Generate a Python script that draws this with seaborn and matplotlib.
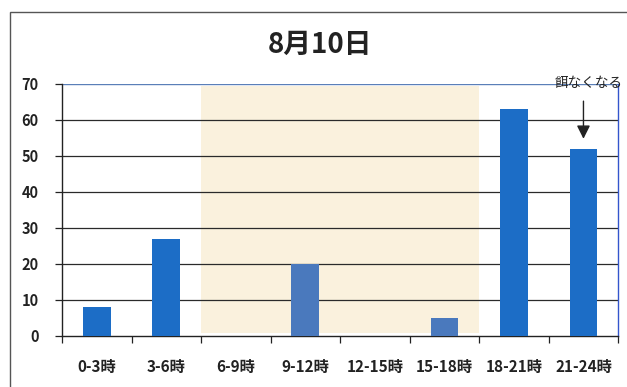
import matplotlib
matplotlib.use("Agg")
import matplotlib.pyplot as plt
from matplotlib.patches import Rectangle
import seaborn as sns
import pandas as pd

# Hourly counts for the day
periods = ["0-3時", "3-6時", "6-9時", "9-12時", "12-15時", "15-18時", "18-21時", "21-24時"]
counts = [8, 27, 0, 20, 0, 5, 63, 52]
daytime = [False, False, True, True, True, True, False, False]
title = "8月10日"
note = "餌なくなる"
note_period = "21-24時"
y_ticks = [0, 10, 20, 30, 40, 50, 60, 70]

night_blue = "#1c6dc6"
day_blue = "#4a79bd"
shade = "#faf1dd"

sns.set_style("white")
plt.rcParams["font.family"] = ["Noto Sans CJK JP", "DejaVu Sans"]

df = pd.DataFrame({"period": periods, "count": counts})
colors = [day_blue if d else night_blue for d in daytime]

fig = plt.figure(figsize=(6.27, 3.87), dpi=100)
fig.patch.set_facecolor("white")
ax = fig.add_axes([0.099, 0.132, 0.887, 0.651])

sns.barplot(data=df, x="period", y="count", hue="period", palette=colors,
            legend=False, width=0.4, saturation=1, linewidth=0,
            edgecolor="none", ax=ax, zorder=3)

# Daytime band (6時 - 18時)
first = daytime.index(True)
last = len(daytime) - 1 - daytime[::-1].index(True)
ax.fill_between([first - 0.5, last + 0.5], 0.8, 69.4, color=shade, zorder=0.5, lw=0)

ax.set_xlim(-0.5, len(periods) - 0.5)
ax.set_ylim(0, 70)
ax.set_yticks(y_ticks)
for v in y_ticks[1:-1]:
    ax.axhline(v, color="#2a2a2a", lw=0.9, zorder=1)
ax.axhline(70, color="#5a7fb8", lw=1.0, zorder=1)

ax.set_xlabel("")
ax.set_ylabel("")
for side in ["left", "bottom"]:
    ax.spines[side].set_color("#222222")
    ax.spines[side].set_linewidth(1.0)
ax.spines["top"].set_visible(False)
ax.spines["right"].set_color("#3355cc")
ax.spines["right"].set_linewidth(1.0)

ax.tick_params(axis="y", left=True, length=5, width=0.9, color="#222222",
               labelsize=10.5, pad=12)
ax.tick_params(axis="x", bottom=False, labelsize=11, pad=13)
ax.set_xticks(range(len(periods)), minor=False)
ax.set_xticks([i + 0.5 for i in range(-1, len(periods))], minor=True)
ax.tick_params(axis="x", which="minor", bottom=True, length=5, width=0.9,
               color="#222222", direction="out")
for lab in ax.get_xticklabels() + ax.get_yticklabels():
    lab.set_fontweight("bold")
    lab.set_color("#222222")

fig.text(0.51, 0.885, title, ha="center", va="center", fontsize=20,
         fontweight="bold", color="#222222")

xi = periods.index(note_period)
ax.annotate("", xy=(xi, 54), xytext=(xi, 66),
            arrowprops=dict(arrowstyle="-|>", color="#222222", lw=1.0,
                            mutation_scale=20), annotation_clip=False, zorder=5)
ax.text(xi - 0.41, 68.3, note, ha="left", va="bottom", fontsize=9.8,
        color="#222222", clip_on=False, zorder=5)

# Chart frame
fig.patches.append(Rectangle((10 / 627, -0.02), 1.2, 1 - 12 / 387 + 0.02,
                             transform=fig.transFigure, fill=False,
                             edgecolor="#555555", lw=1.0))

fig.savefig("out.png", dpi=100)
